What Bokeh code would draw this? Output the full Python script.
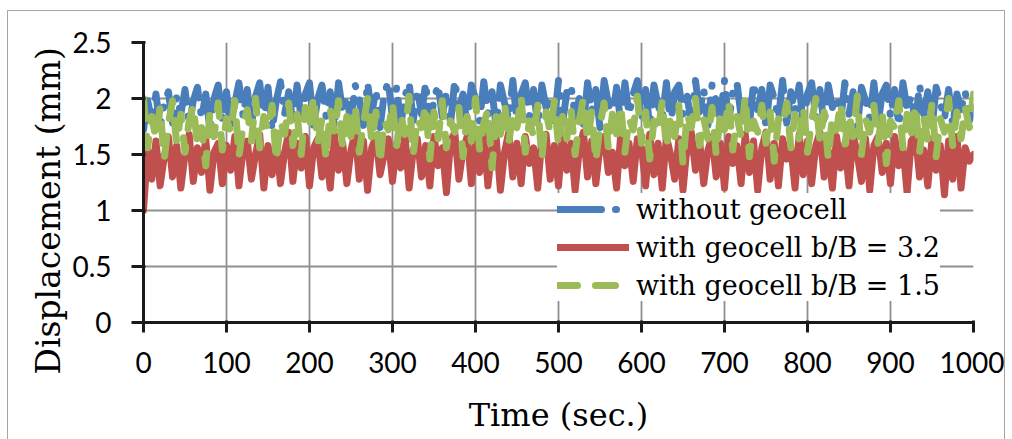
from bokeh.plotting import figure
from bokeh.models import FixedTicker, Title
from bokeh.embed import file_html
from bokeh.resources import INLINE

# ---------------- data (5 s steps) ----------------
time_s = list(range(0, 1001, 5))

without_geocell = [
    1.72, 1.98, 1.80, 2.04, 1.74, 1.96, 2.06, 1.78, 2.02, 1.86, 2.08, 1.76, 1.98, 2.10, 1.82, 2.04, 1.72, 2.00, 2.12, 1.80,
    2.06, 1.74, 1.96, 2.14, 1.84, 2.08, 1.76, 2.02, 2.14, 1.80, 2.10, 1.72, 1.98, 2.15, 1.86, 2.06, 1.78, 2.12, 1.82, 2.04,
    2.14, 1.76, 2.00, 2.12, 1.84, 2.06, 1.74, 2.14, 1.88, 2.02, 1.78, 2.12, 2.00, 1.76, 2.14, 1.86, 2.08, 1.74, 2.04, 2.15,
    1.82, 2.10, 1.76, 2.02, 2.14, 1.80, 2.08, 1.86, 2.14, 1.74, 2.00, 2.12, 1.84, 2.06, 1.78, 2.16, 1.90, 2.04, 1.76, 2.12,
    2.00, 1.80, 2.15, 1.86, 2.06, 1.74, 2.12, 1.96, 1.82, 2.16, 1.78, 2.04, 2.14, 1.84, 2.08, 1.76, 2.12, 1.92, 2.02, 1.80,
    2.16, 1.78, 2.06, 2.12, 1.84, 2.00, 1.76, 2.14, 1.88, 2.08, 1.74, 2.16, 1.96, 1.82, 2.10, 1.78, 2.14, 1.86, 2.04, 2.16,
    1.80, 2.08, 1.74, 2.12, 1.94, 1.82, 2.14, 1.76, 2.06, 2.12, 1.86, 2.02, 1.78, 2.16, 1.88, 2.08, 1.76, 2.12, 1.98, 1.82,
    2.16, 1.78, 2.06, 2.14, 1.84, 2.02, 1.76, 2.14, 1.90, 2.08, 1.74, 2.12, 2.00, 1.82, 2.16, 1.78, 2.06, 1.88, 2.12, 1.76,
    2.04, 2.14, 1.82, 2.08, 1.76, 2.12, 1.92, 2.02, 1.80, 2.14, 1.86, 2.06, 1.74, 2.10, 1.98, 1.82, 2.14, 1.78, 2.04, 2.12,
    1.84, 2.08, 1.76, 2.14, 1.90, 2.02, 1.78, 2.12, 1.86, 2.06, 1.74, 2.10, 1.96, 1.82, 2.08, 1.76, 2.04, 1.90, 2.06, 1.80,
    1.92,
]

geocell_b_B_3_2 = [
    1.00, 1.55, 1.28, 1.62, 1.22, 1.48, 1.66, 1.30, 1.58, 1.20, 1.50, 1.68, 1.26, 1.56, 1.34, 1.64, 1.18, 1.52, 1.60, 1.24,
    1.58, 1.36, 1.66, 1.22, 1.54, 1.62, 1.28, 1.50, 1.68, 1.20, 1.58, 1.32, 1.64, 1.24, 1.52, 1.70, 1.26, 1.60, 1.38, 1.66,
    1.22, 1.56, 1.64, 1.30, 1.52, 1.20, 1.68, 1.36, 1.60, 1.24, 1.54, 1.70, 1.28, 1.62, 1.18, 1.56, 1.66, 1.32, 1.50, 1.64,
    1.26, 1.60, 1.38, 1.68, 1.20, 1.54, 1.64, 1.30, 1.58, 1.22, 1.66, 1.40, 1.56, 1.16, 1.62, 1.70, 1.28, 1.54, 1.66, 1.24,
    1.60, 1.34, 1.68, 1.22, 1.56, 1.64, 1.18, 1.52, 1.70, 1.30, 1.60, 1.24, 1.66, 1.42, 1.56, 1.20, 1.64, 1.68, 1.28, 1.58,
    1.22, 1.66, 1.36, 1.60, 1.18, 1.54, 1.70, 1.30, 1.62, 1.24, 1.58, 1.66, 1.34, 1.52, 1.20, 1.68, 1.40, 1.60, 1.26, 1.64,
    1.56, 1.22, 1.68, 1.32, 1.60, 1.20, 1.66, 1.50, 1.28, 1.64, 1.18, 1.58, 1.70, 1.36, 1.62, 1.24, 1.54, 1.66, 1.30, 1.60,
    1.20, 1.66, 1.42, 1.58, 1.24, 1.68, 1.34, 1.62, 1.18, 1.56, 1.70, 1.28, 1.60, 1.22, 1.64, 1.46, 1.56, 1.20, 1.68, 1.32,
    1.62, 1.24, 1.58, 1.70, 1.30, 1.54, 1.20, 1.66, 1.38, 1.60, 1.22, 1.68, 1.50, 1.26, 1.64, 1.18, 1.58, 1.66, 1.34, 1.60,
    1.24, 1.66, 1.40, 1.56, 1.16, 1.62, 1.68, 1.30, 1.54, 1.22, 1.64, 1.36, 1.58, 1.14, 1.62, 1.28, 1.66, 1.20, 1.56, 1.44,
    1.50,
]

geocell_b_B_1_5 = [
    2.00, 1.56, 1.84, 1.64, 1.92, 1.46, 1.78, 1.98, 1.60, 1.86, 1.52, 1.80, 1.94, 1.58, 1.74, 1.40, 1.88, 1.66, 1.96, 1.54,
    1.82, 1.70, 1.98, 1.48, 1.76, 1.90, 1.62, 2.00, 1.56, 1.84, 1.72, 1.94, 1.44, 1.80, 1.68, 1.96, 1.58, 1.86, 1.50, 1.92,
    1.74, 2.02, 1.60, 1.82, 1.46, 1.90, 1.70, 1.98, 1.56, 1.84, 1.66, 1.94, 1.52, 1.78, 2.00, 1.62, 1.88, 1.42, 1.80, 1.72,
    1.96, 1.58, 1.86, 1.68, 2.02, 1.50, 1.82, 1.74, 1.94, 1.46, 1.88, 1.64, 1.98, 1.56, 1.80, 1.70, 1.92, 1.48, 1.84, 1.62,
    2.00, 1.54, 1.78, 1.90, 1.38, 1.84, 1.68, 1.96, 1.60, 1.86, 1.74, 2.02, 1.52, 1.80, 1.66, 1.94, 1.46, 1.88, 1.70, 1.98,
    1.58, 1.84, 1.64, 1.92, 1.50, 1.80, 2.00, 1.62, 1.88, 1.44, 1.76, 1.96, 1.56, 1.86, 1.68, 1.94, 1.52, 1.82, 1.72, 2.02,
    1.60, 1.88, 1.46, 1.80, 1.70, 1.98, 1.56, 1.84, 1.66, 1.94, 1.42, 1.86, 1.74, 2.00, 1.58, 1.82, 1.64, 1.92, 1.50, 1.86,
    1.72, 1.98, 1.54, 1.84, 1.66, 2.02, 1.48, 1.80, 1.70, 1.94, 1.60, 1.88, 1.44, 1.82, 1.76, 1.96, 1.56, 1.86, 1.64, 1.92,
    1.52, 1.80, 2.00, 1.62, 1.88, 1.46, 1.84, 1.72, 1.96, 1.58, 1.86, 1.66, 2.02, 1.50, 1.82, 1.70, 1.94, 1.60, 1.88, 1.42,
    1.80, 1.74, 1.98, 1.56, 1.86, 1.68, 1.94, 1.52, 1.84, 1.62, 1.96, 1.48, 1.82, 1.70, 2.00, 1.58, 1.88, 1.64, 1.92, 1.74,
    2.04,
]

series_labels = ["without geocell", "with geocell b/B = 3.2", "with geocell b/B = 1.5"]
x_ticks = [0, 100, 200, 300, 400, 500, 600, 700, 800, 900, 1000]
y_ticks = [0, 0.5, 1, 1.5, 2, 2.5]
y_tick_labels = ["0", "0.5", "1", "1.5", "2", "2.5"]
x_title = "Time (sec.)"
y_title = "Displacement (mm)"

# ---------------- figure ----------------
p = figure(
    width=998, height=429,
    x_range=(0, 1000), y_range=(0, 2.5),
    output_backend="svg", toolbar_location=None,
    min_border_left=135, min_border_right=33,
    min_border_top=31, min_border_bottom=118,
)
p.margin = (10, 0, 0, 7)
p.styles = {"border-top": "1px solid #a6a6a6", "border-left": "1px solid #a6a6a6",
            "border-right": "1px solid #a6a6a6"}
p.outline_line_color = None
p.background_fill_color = "white"
p.border_fill_color = "white"

# grid
for g in (p.xgrid, p.ygrid):
    g.grid_line_color = "#8f8f8f"
    g.grid_line_width = 1.8
p.xgrid.ticker = FixedTicker(ticks=x_ticks)
p.ygrid.ticker = FixedTicker(ticks=y_ticks)

# axes
p.xaxis.ticker = FixedTicker(ticks=x_ticks)
p.yaxis.ticker = FixedTicker(ticks=y_ticks)
p.yaxis.major_label_overrides = {t: l for t, l in zip(y_ticks, y_tick_labels)}
for ax in (p.xaxis[0], p.yaxis[0]):
    ax.axis_line_color = "#1a1a1a"
    ax.axis_line_width = 3
    ax.major_tick_line_color = "#1a1a1a"
    ax.major_tick_line_width = 3
    ax.minor_tick_line_color = None
    ax.major_label_text_font = "Lato"
    ax.major_label_text_font_size = "28px"
    ax.major_label_text_color = "black"
    ax.axis_label_text_font = "DejaVu Serif"
    ax.axis_label_text_font_size = "32px"
    ax.axis_label_text_font_style = "normal"
    ax.axis_label_text_color = "black"

p.xaxis.major_tick_out = 10
p.xaxis.major_tick_in = 2
p.xaxis.major_label_standoff = 19
p.xaxis.axis_label = x_title
p.xaxis.axis_label_standoff = 20

p.yaxis.major_tick_out = 12
p.yaxis.major_tick_in = 2
p.yaxis.major_label_standoff = 20

# y title as a side title, starting below the frame bottom as in the reference
p.add_layout(Title(text=y_title, align="left", offset=-52, standoff=4,
                   text_font="DejaVu Serif", text_font_size="33px",
                   text_font_style="normal", text_color="black"), "left")

# series
common = dict(line_width=7, line_cap="round", line_join="round")
p.line(time_s, without_geocell, line_color="#4a7ebb", line_dash="44 14 1 14",
       legend_label=series_labels[0], **common)
p.line(time_s, geocell_b_B_3_2, line_color="#c0504d",
       legend_label=series_labels[1], **common)
p.line(time_s, geocell_b_B_1_5, line_color="#9bbb59", line_dash="20 18",
       legend_label=series_labels[2], **common)

# legend
lg = p.legend[0]
lg.location = (414, 21)
lg.padding = 6
lg.spacing = 6
lg.margin = 0
lg.glyph_width = 72
lg.glyph_height = 32
lg.label_height = 32
lg.label_standoff = 7
lg.label_text_font = "DejaVu Serif"
lg.label_text_font_size = "27px"
lg.label_text_color = "black"
lg.border_line_color = None
lg.background_fill_color = "white"
lg.background_fill_alpha = 1.0

open("out.html", "w").write(file_html(p, INLINE))
